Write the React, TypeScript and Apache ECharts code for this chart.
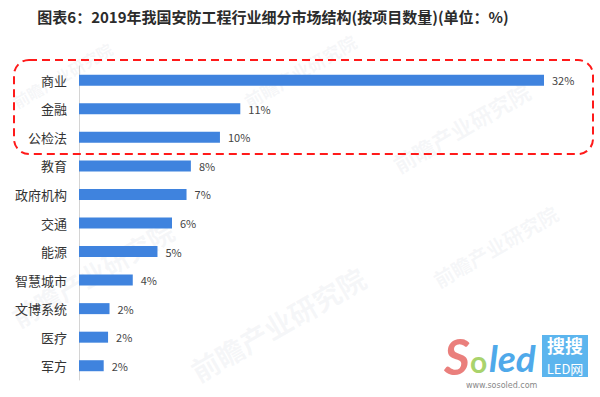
import React, { useEffect, useRef } from "react";
import * as echarts from "echarts";

const categories = ["商业", "金融", "公检法", "教育", "政府机构", "交通", "能源", "智慧城市", "文博系统", "医疗", "军方"];
const values = [32, 11.1, 9.7, 7.7, 7.4, 6.4, 5.4, 3.7, 2.1, 2.0, 1.7];
const valueLabels = ["32%", "11%", "10%", "8%", "7%", "6%", "5%", "4%", "2%", "2%", "2%"];
const titleText = "图表6：2019年我国安防工程行业细分市场结构(按项目数量)(单位：%)";

const wmText = "前瞻产业研究院";
const watermarks = [
  { x: 18, y: 110, size: 16 },
  { x: 250, y: 110, size: 18 },
  { x: 400, y: 175, size: 22 },
  { x: 20, y: 330, size: 26 },
  { x: 200, y: 385, size: 28 },
  { x: 440, y: 290, size: 20 },
];

export default function App() {
  const ref = useRef<HTMLDivElement>(null);
  useEffect(() => {
    if (!ref.current) return;
    const chart = echarts.init(ref.current, undefined, { renderer: "svg" });
    const font = "'Noto Sans CJK SC', 'Noto Sans', sans-serif";
    const graphics: any[] = [];
    watermarks.forEach((w) => {
      graphics.push({
        type: "text",
        x: w.x,
        y: w.y,
        rotation: Math.PI / 6,
        z: 0,
        silent: true,
        style: {
          text: wmText,
          fontSize: w.size,
          fontWeight: "bold",
          fontFamily: font,
          fill: "rgba(180,190,200,0.12)",
          textVerticalAlign: "bottom",
        },
      });
    });
    graphics.push({
      type: "rect",
      shape: { x: 14, y: 60, width: 579, height: 94, r: 15 },
      z: 10,
      style: { fill: "none", stroke: "#ff1a1a", lineWidth: 2, lineDash: [8, 5] },
    });
    // logo
    graphics.push(
      {
        type: "text",
        x: 444,
        y: 381,
        z: 10,
        style: { text: "S", fontSize: 50, fontStyle: "italic", fontWeight: "bold", fontFamily: "Lato, sans-serif", fill: "#ea7f7c", textVerticalAlign: "bottom" },
      },
      {
        type: "text",
        x: 470,
        y: 376,
        z: 10,
        style: { text: "o", fontSize: 30, fontWeight: "bold", fontFamily: "Lato, sans-serif", fill: "#a9d36c", textVerticalAlign: "bottom" },
      },
      {
        type: "text",
        x: 489,
        y: 376,
        z: 10,
        style: { text: "led", fontSize: 37, fontStyle: "italic", fontWeight: "bold", fontFamily: "Lato, sans-serif", fill: "#4fa9ea", textVerticalAlign: "bottom" },
      },
      {
        type: "text",
        x: 466,
        y: 385,
        z: 10,
        style: { text: "www.sosoled.com", fontSize: 8, fontFamily: "'DejaVu Sans', sans-serif", fill: "#888", textVerticalAlign: "middle" },
      },
      {
        type: "rect",
        shape: { x: 542, y: 335, width: 46, height: 42 },
        z: 10,
        style: { fill: "#5cb5ee" },
      },
      {
        type: "text",
        x: 565,
        y: 345,
        z: 11,
        style: { text: "搜搜", fontSize: 18, fontWeight: "bold", fontFamily: font, fill: "#fff", textAlign: "center", textVerticalAlign: "middle" },
      },
      {
        type: "text",
        x: 565,
        y: 368,
        z: 11,
        style: { text: "LED网", fontSize: 13, fontFamily: font, fill: "#fff", textAlign: "center", textVerticalAlign: "middle" },
      }
    );

    chart.setOption({
      animation: false,
      backgroundColor: "#ffffff",
      title: {
        text: titleText,
        left: 268,
        textAlign: "center",
        top: 4,
        textStyle: { fontSize: 15, fontWeight: "bold", fontFamily: font, color: "#2b2b2b" },
      },
      grid: { left: 79, right: 56, top: 66, bottom: 17, containLabel: false },
      xAxis: {
        type: "value",
        min: 0,
        max: 32,
        show: false,
      },
      yAxis: {
        type: "category",
        data: categories,
        inverse: true,
        axisLine: { show: true, lineStyle: { color: "#d4d4d4", width: 1 } },
        axisTick: { show: false },
        axisLabel: { fontSize: 13, color: "#333333", margin: 12, fontFamily: font },
      },
      series: [
        {
          type: "bar",
          data: values,
          barWidth: 11,
          itemStyle: { color: "#3f83de" },
          z: 5,
          label: {
            show: true,
            position: "right",
            distance: 8,
            fontSize: 11,
            color: "#444444",
            fontFamily: font,
            formatter: (p: any) => valueLabels[p.dataIndex],
          },
        },
      ],
      graphic: graphics,
    });
    return () => chart.dispose();
  }, []);
  return <div ref={ref} style={{ width: 600, height: 397, position: "absolute", left: 0, top: 0 }} />;
}
